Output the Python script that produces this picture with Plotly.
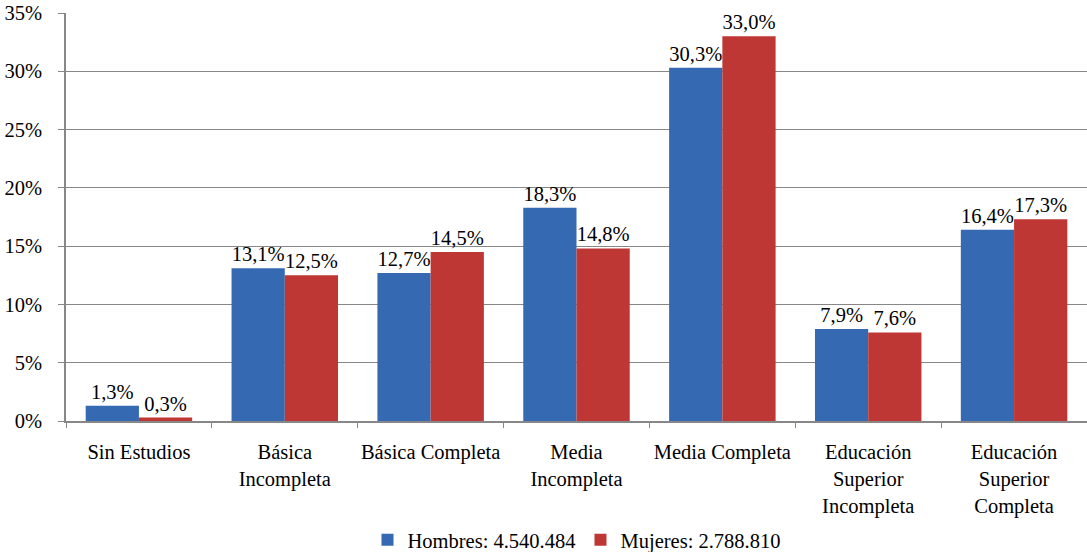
import plotly.graph_objects as go

categories = ["Sin Estudios", "Básica<br>Incompleta", "Básica Completa", "Media<br>Incompleta",
              "Media Completa", "Educación<br>Superior<br>Incompleta", "Educación<br>Superior<br>Completa"]
hombres = [1.3, 13.1, 12.7, 18.3, 30.3, 7.9, 16.4]
mujeres = [0.3, 12.5, 14.5, 14.8, 33.0, 7.6, 17.3]
name_h = "Hombres: 4.540.484"
name_m = "Mujeres: 2.788.810"

font = dict(family="Liberation Serif", size=20.5, color="#000000")

fig = go.Figure()
fig.add_trace(go.Bar(x=categories, y=hombres, name=name_h, marker=dict(color="#3569B2", line=dict(width=0)),
                     texttemplate="%{y:.1f}%", textposition="outside", cliponaxis=False,
                     textfont=font))
fig.add_trace(go.Bar(x=categories, y=mujeres, name=name_m, marker=dict(color="#BE3734", line=dict(width=0)),
                     texttemplate="%{y:.1f}%", textposition="outside", cliponaxis=False,
                     textfont=font))

fig.update_layout(
    width=1087, height=552,
    margin=dict(l=66, r=0, t=13, b=131, autoexpand=False),
    paper_bgcolor="white", plot_bgcolor="white",
    font=font,
    separators=",.",
    barmode="group", bargap=0.27, bargroupgap=0,
    showlegend=True,
    legend=dict(orientation="h", x=0.5, xanchor="center", yref="container", y=0.022, yanchor="middle",
                font=font, itemwidth=30, traceorder="normal", bgcolor="rgba(0,0,0,0)"),
    xaxis=dict(showline=True, linecolor="#878787", linewidth=1.5, ticks="outside", tickson="boundaries",
               ticklen=5, tickcolor="#878787", tickfont=font, showgrid=False, automargin=False,
               ticklabelstandoff=12, tickangle=0),
    yaxis=dict(range=[0, 35], dtick=5, ticksuffix="%", showline=True, linecolor="#878787", linewidth=1.5,
               ticks="outside", ticklen=6, tickcolor="#878787", gridcolor="#878787", gridwidth=1.2,
               tickfont=font, zeroline=False, automargin=False, ticklabelstandoff=12),
)
fig.write_html("out.html", config={"displayModeBar": False},
               post_script="document.body.style.margin='0px';")
